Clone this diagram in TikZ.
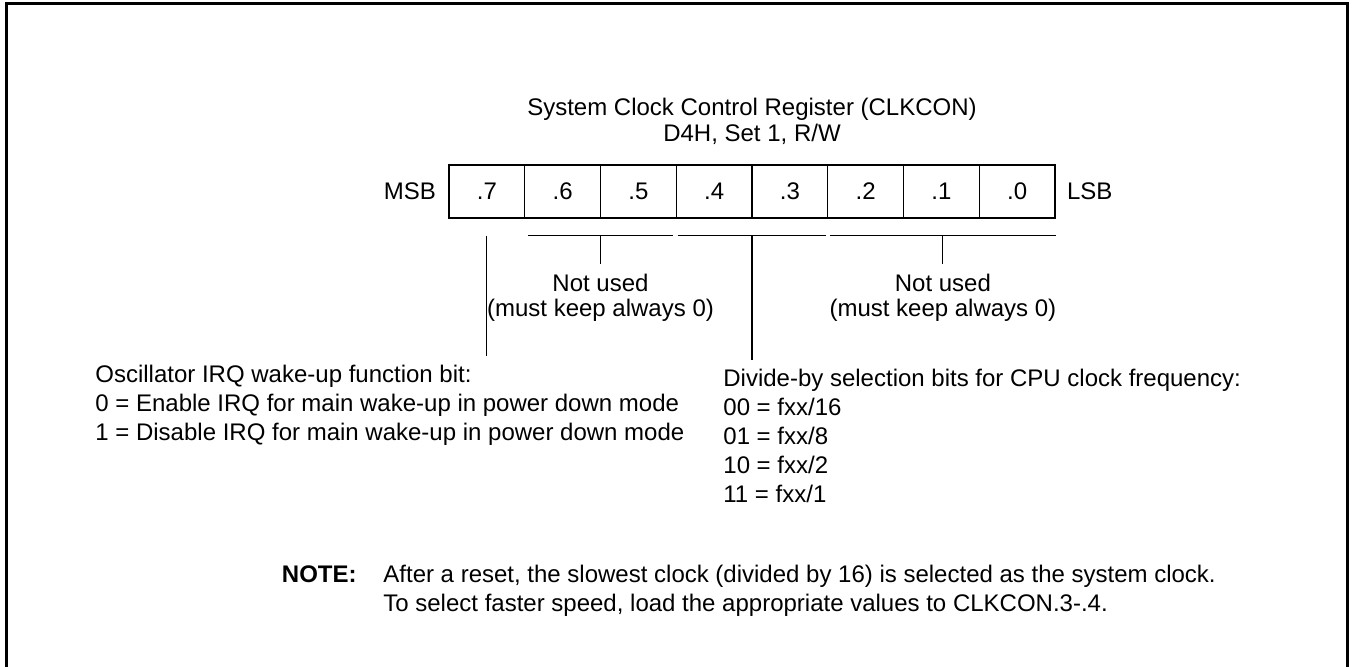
\documentclass[tikz,border=0pt]{standalone}
\usepackage{fontspec}
\setmainfont{Liberation Sans}
\usetikzlibrary{positioning,calc}

\begin{document}
\begin{tikzpicture}[x=0.5pt,y=-0.5pt,
    txt/.style={inner sep=0pt,font=\fontsize{12}{14.5}\selectfont},
    cell/.style={draw,line width=0.6pt,minimum width=37.875pt,minimum height=26.5pt,inner sep=0pt,font=\fontsize{12}{14}\selectfont},
    bracket/.style={line width=0.6pt}]
    \useasboundingbox (0,0) rectangle (1352,667);
    % frame, open at the bottom
    \draw[line width=1.5pt] (6,667) -- (6,4) -- (1347,4) -- (1347,667);

    \node[txt,align=center,anchor=north,font=\fontsize{12}{13}\selectfont] (title) at (752,98)
        {System Clock Control Register (CLKCON)\\D4H, Set 1, R/W};

    % register bits
    \foreach \n in {7,...,0}
        \node[cell] (b\n) at ({449+(7.5-\n)*75.75},191.5) {.\n};
    \node[txt,left=6pt of b7] (msb) {MSB};
    \node[txt,right=5.5pt of b0] (lsb) {LSB};

    % brackets under the bit fields
    \draw[bracket] ($(b6.south west)+(4,17)$) -- coordinate (t65) ($(b5.south east)+(-4,17)$);
    \draw[bracket] ($(b4.south west)+(2,17)$) -- coordinate (t43) ($(b3.south east)+(-2,17)$);
    \draw[bracket] ($(b2.south west)+(3,17)$) -- coordinate (t20) ($(b0.south east)+(0,17)$);
    \coordinate (t7) at ($(b7.south)+(0,17)$);

    \coordinate[below=14pt of t65] (e65);
    \coordinate[below=14pt of t20] (e20);
    \coordinate[below=60pt of t7] (e7);
    \coordinate[below=62pt of t43] (e43);
    \draw[bracket] (t65) -- (e65);
    \draw[bracket] (t20) -- (e20);
    \draw[bracket] (t7) -- (e7);
    \draw[bracket] (t43) -- (e43);

    \node[txt,align=center,anchor=north,font=\fontsize{12}{12.5}\selectfont] (nu1) at ($(e65)+(0,10)$)
        {Not used\\(must keep always 0)};
    \node[txt,align=center,anchor=north,font=\fontsize{12}{12.5}\selectfont] (nu2) at ($(e20)+(0,10)$)
        {Not used\\(must keep always 0)};

    \node[txt,align=left,anchor=north west] (osc) at (95,365)
        {Oscillator IRQ wake-up function bit:\\
         0 = Enable IRQ for main wake-up in power down mode\\
         1 = Disable IRQ for main wake-up in power down mode};
    \node[txt,align=left,anchor=north west] (div) at (723,369)
        {Divide-by selection bits for CPU clock frequency:\\
         00 = fxx/16\\
         01 = fxx/8\\
         10 = fxx/2\\
         11 = fxx/1};

    % note
    \node[txt,align=left,anchor=north west] (note) at (383,565)
        {After a reset, the slowest clock (divided by 16) is selected as the system clock.\\
         To select faster speed, load the appropriate values to CLKCON.3-.4.};
    \node[txt,anchor=north east,font=\fontsize{12}{14.5}\selectfont\bfseries] (notehd) at ([xshift=-13pt]note.north west) {NOTE:};
\end{tikzpicture}
\end{document}
